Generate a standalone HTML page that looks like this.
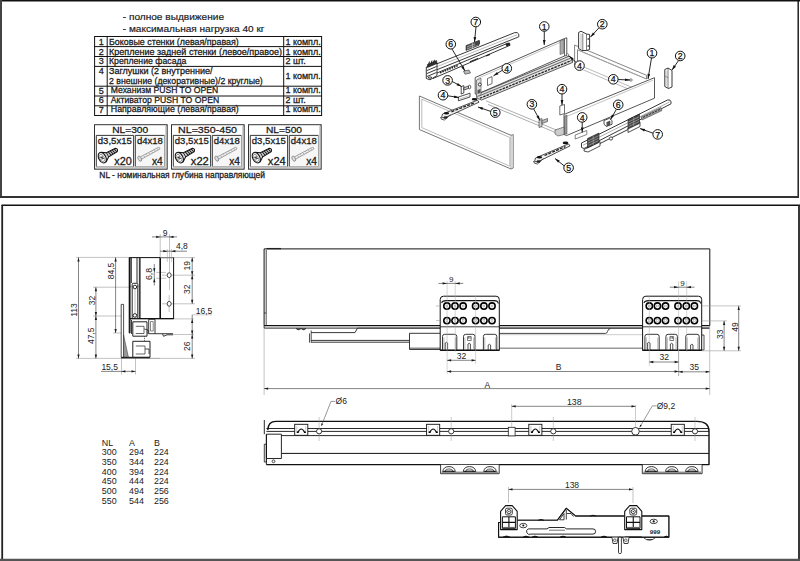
<!DOCTYPE html>
<html><head><meta charset="utf-8">
<style>
html,body{margin:0;padding:0;background:#fff;}
body{width:800px;height:561px;overflow:hidden;}
svg{display:block;font-family:"Liberation Sans",sans-serif;}
.t{font-size:9px;fill:#1a1a1a;stroke:#1a1a1a;stroke-width:0.28px;}
#bottom text{stroke:none;}
.ln{stroke:#111;stroke-width:1;fill:none;}
</style></head><body>
<svg width="800" height="561" viewBox="0 0 800 561">
<!-- frames -->
<g id="frames" fill="none">
<line x1="0" y1="0.75" x2="800" y2="0.75" stroke="#111" stroke-width="1.5"/>
<line x1="1" y1="0" x2="1" y2="198" stroke="#444" stroke-width="2"/>
<line x1="798.2" y1="0" x2="798.2" y2="198" stroke="#111" stroke-width="1.4"/>
<line x1="0" y1="197" x2="799" y2="197" stroke="#333" stroke-width="1.8"/>
<line x1="1.5" y1="205.3" x2="800" y2="205.3" stroke="#111" stroke-width="1.5"/>
<line x1="2.2" y1="205" x2="2.2" y2="561" stroke="#222" stroke-width="1.8"/>
<line x1="799" y1="205" x2="799" y2="561" stroke="#222" stroke-width="1.8"/>
<line x1="0" y1="560" x2="800" y2="560" stroke="#555" stroke-width="2.4"/>
</g>
<!-- header text -->
<g id="hdr" class="t" style="font-size:9.5px;stroke-width:0.18px">
<text x="122.75" y="20" textLength="101.25" lengthAdjust="spacingAndGlyphs">- полное выдвижение</text>
<text x="122.75" y="32" textLength="141.75" lengthAdjust="spacingAndGlyphs">- максимальная нагрузка 40 кг</text>
</g>
<!-- table -->
<g id="tbl">
<g stroke="#111" stroke-width="1" fill="none">
<rect x="94.6" y="36.5" width="227" height="79"/>
<line x1="107.2" y1="36.5" x2="107.2" y2="115.5"/>
<line x1="283.7" y1="36.5" x2="283.7" y2="115.5"/>
<line x1="94.6" y1="46.6" x2="321.6" y2="46.6"/>
<line x1="94.6" y1="56.5" x2="321.6" y2="56.5"/>
<line x1="94.6" y1="66.4" x2="321.6" y2="66.4"/>
<line x1="94.6" y1="86.2" x2="321.6" y2="86.2"/>
<line x1="94.6" y1="96" x2="321.6" y2="96"/>
<line x1="94.6" y1="105.8" x2="321.6" y2="105.8"/>
</g>
<g class="t" style="font-size:9px">
<text x="98.8" y="44.7">1</text>
<text x="98.8" y="54.5">2</text>
<text x="98.8" y="64.4">3</text>
<text x="98.8" y="74.2">4</text>
<text x="98.8" y="93.6">5</text>
<text x="98.8" y="103.3">6</text>
<text x="98.8" y="113">7</text>
<text x="109" y="44.6" textLength="129.8" lengthAdjust="spacingAndGlyphs">Боковые стенки (левая/правая)</text>
<text x="109" y="54.5" textLength="173" lengthAdjust="spacingAndGlyphs">Крепление задней стенки (левое/правое)</text>
<text x="109" y="64.2" textLength="77.4" lengthAdjust="spacingAndGlyphs">Крепление фасада</text>
<text x="109" y="74.2" textLength="103.5" lengthAdjust="spacingAndGlyphs">Заглушки (2 внутренние/</text>
<text x="109" y="83.6" textLength="153.7" lengthAdjust="spacingAndGlyphs">2 внешние (декоративные)/2 круглые)</text>
<text x="110.8" y="93.4" textLength="107.4" lengthAdjust="spacingAndGlyphs">Механизм PUSH TO OPEN</text>
<text x="110.8" y="103.1" textLength="108.4" lengthAdjust="spacingAndGlyphs">Активатор PUSH TO OPEN</text>
<text x="110.8" y="112.4" textLength="128" lengthAdjust="spacingAndGlyphs">Направляющие (левая/правая)</text>
<text x="285.4" y="44.6" textLength="35.3" lengthAdjust="spacingAndGlyphs">1 компл.</text>
<text x="285.4" y="54.5" textLength="35.3" lengthAdjust="spacingAndGlyphs">1 компл.</text>
<text x="285.4" y="64.3">2 шт.</text>
<text x="285.4" y="78.7" textLength="35.3" lengthAdjust="spacingAndGlyphs">1 компл.</text>
<text x="285.4" y="93.4" textLength="35.3" lengthAdjust="spacingAndGlyphs">1 компл.</text>
<text x="285.4" y="103.1">2 шт.</text>
<text x="285.4" y="112.4" textLength="35.3" lengthAdjust="spacingAndGlyphs">1 компл.</text>
</g>
</g>

<!-- screw boxes -->
<defs>
<g id="scrA">
 <g transform="rotate(-29)">
 <path d="M1.8,-5.2 L6,-2.4 L16,-2 Q18.4,0 16,2 L6,2.4 L1.8,5.2 Z" fill="#d4d4d4" stroke="#111" stroke-width="1"/>
 <path d="M6,-2.4 V2.4" stroke="#111" stroke-width="0.8"/>
 <path d="M8,-2.3 L9,2.3 M10.2,-2.2 L11.2,2.2 M12.4,-2.1 L13.4,2.1 M14.6,-2 L15.5,1.9" stroke="#222" stroke-width="1.05"/>
 <ellipse cx="0" cy="0" rx="3.5" ry="5.6" fill="#fff" stroke="#111" stroke-width="1.1"/>
 <ellipse cx="-0.4" cy="0" rx="2.2" ry="4" fill="none" stroke="#666" stroke-width="0.6"/>
 <path d="M-1.6,-1.6 L1,1.6 M-1.2,1.6 L0.8,-1.8" stroke="#222" stroke-width="0.8"/>
 </g>
</g>
<g id="scrB">
 <g transform="rotate(-28.3)">
 <path d="M1.5,-1.3 L22.5,-1.1 Q24,0 22.5,1.1 L1.5,1.3 Z" fill="#eee" stroke="#999" stroke-width="0.8"/>
 <path d="M5,-1.2 L6,1.2 M8,-1.2 L9,1.2 M11,-1.2 L12,1.2 M14,-1.1 L15,1.1 M17,-1.1 L18,1.1 M20,-1 L21,1" stroke="#aaa" stroke-width="0.7"/>
 <ellipse cx="0.5" cy="0" rx="1.6" ry="2.8" fill="#ddd" stroke="#888" stroke-width="0.8"/>
 </g>
</g>
<g id="sbox">
 <rect x="0.5" y="0.5" width="72.6" height="44.4" fill="#fff" stroke="#333" stroke-width="1"/>
 <path d="M73.1,0.5 V44.9 H0.5" fill="none" stroke="#666" stroke-width="1"/>
 <path d="M71.8,1.8 V43.5 H1.8" fill="none" stroke="#ccc" stroke-width="1.4"/>
 <rect x="2.3" y="11.2" width="37.3" height="31.3" fill="#fff" stroke="none"/>
 <rect x="41.3" y="11.2" width="29.2" height="31.3" fill="#f6f6f6" stroke="none"/>
 <path d="M2.3,42.5 V11.2 H39.6 V42.5" fill="none" stroke="#222" stroke-width="0.9"/>
 <path d="M2.3,42.5 H39.6" fill="none" stroke="#999" stroke-width="0.9"/>
 <path d="M41.3,42.5 V11.2 H70.5" fill="none" stroke="#222" stroke-width="0.9"/>
 <path d="M70.5,11.2 V42.5 H41.3" fill="none" stroke="#999" stroke-width="0.9"/>
 <use href="#scrA" x="8.3" y="33.5"/>
 <use href="#scrB" x="45.3" y="34.7"/>
</g>
</defs>
<g class="t" style="font-size:9.5px">
<use href="#sbox" x="94" y="124.2"/>
<use href="#sbox" x="171" y="124.2"/>
<use href="#sbox" x="248" y="124.2"/>
<text x="112.2" y="133.2" textLength="36" lengthAdjust="spacingAndGlyphs" style="font-size:9.7px">NL=300</text>
<text x="178" y="133.2" textLength="59" lengthAdjust="spacingAndGlyphs" style="font-size:9.7px">NL=350-450</text>
<text x="266" y="133.2" textLength="36" lengthAdjust="spacingAndGlyphs" style="font-size:9.7px">NL=500</text>
<text x="97.8" y="143.6" textLength="34" lengthAdjust="spacingAndGlyphs" style="font-size:9.6px">d3,5x15</text>
<text x="174.8" y="143.6" textLength="34" lengthAdjust="spacingAndGlyphs" style="font-size:9.6px">d3,5x15</text>
<text x="251.8" y="143.6" textLength="34" lengthAdjust="spacingAndGlyphs" style="font-size:9.6px">d3,5x15</text>
<text x="136.9" y="143.6" textLength="26" lengthAdjust="spacingAndGlyphs" style="font-size:9.6px">d4x18</text>
<text x="213.8" y="143.6" textLength="26" lengthAdjust="spacingAndGlyphs" style="font-size:9.6px">d4x18</text>
<text x="290.8" y="143.6" textLength="26" lengthAdjust="spacingAndGlyphs" style="font-size:9.6px">d4x18</text>
<g style="font-size:10.5px">
<text x="114.3" y="164.8" textLength="17.5" lengthAdjust="spacingAndGlyphs">x20</text>
<text x="190.8" y="164.8" textLength="18" lengthAdjust="spacingAndGlyphs">x22</text>
<text x="267.8" y="164.8" textLength="18" lengthAdjust="spacingAndGlyphs">x24</text>
<text x="152" y="164.8" textLength="10.8" lengthAdjust="spacingAndGlyphs">x4</text>
<text x="229.2" y="164.8" textLength="10.8" lengthAdjust="spacingAndGlyphs">x4</text>
<text x="306.2" y="164.8" textLength="10.8" lengthAdjust="spacingAndGlyphs">x4</text>
</g>
<text x="99.3" y="178" style="font-size:8.5px" textLength="165.7" lengthAdjust="spacingAndGlyphs">NL - номинальная глубина направляющей</text>
</g>
<!--ISO-->
<g id="iso" stroke-linejoin="round">
<path d="M419.4,96 L511,135.3 L513.2,134.6 L513.2,168 L511,169 L419.4,129.5 Z" fill="#fff" stroke="#666" stroke-width="0.9"/>
<path d="M421.8,99.2 L509.8,137.5 L509.8,166.2 L421.8,127.6 Z" fill="none" stroke="#aaa" stroke-width="0.8"/>
<path d="M511,135.3 V169" stroke="#888" stroke-width="0.7"/>
<path d="M486,100.8 L561,132 M488,104.4 L558,133.6" stroke="#999" stroke-width="0.8" fill="none"/>
<path d="M575.5,63.5 L643,92 M575.5,66.5 L640,94" stroke="#aaa" stroke-width="0.8" fill="none"/>
<path d="M574.6,45 L646.5,75.3 L646.5,79 L577.5,49.8 L577.5,66 L574.6,65 Z" fill="#fff" stroke="#666" stroke-width="0.8"/>
<path d="M577.5,49.8 L640,76.3" stroke="#aaa" stroke-width="0.7"/>
<path d="M578.6,32.5 L581,31.2 L586.5,34 L589.6,34.5 L589.6,49.5 L586.5,50.5 L582,50.5 L578.6,48.5 Z" fill="#fff" stroke="#222" stroke-width="0.9"/>
<path d="M586.5,34 V50.5 M582.8,33.5 V50" stroke="#444" stroke-width="0.7"/>
<path d="M581,33.5 V49" stroke="#bbb" stroke-width="1"/>
<circle cx="588.2" cy="39" r="0.8" fill="#111"/><circle cx="588.2" cy="46" r="0.8" fill="#111"/>
<path d="M664.8,69.5 L668,68 L672,70.5 L672,87 L668.5,88.5 L664.8,86.5 Z" fill="#fff" stroke="#222" stroke-width="0.9"/>
<path d="M668,68 V88.3 M664.8,76 L668,77.5" stroke="#444" stroke-width="0.7"/>
<path d="M666,71 V86" stroke="#bbb" stroke-width="1"/>
<path d="M475.2,77.5 L564.5,38.5 L566.8,37.8 L566.8,55.5 L564.5,56 L476.5,94.5 L475.2,94 Z" fill="#fff" stroke="#444" stroke-width="0.9"/>
<path d="M477.5,78.5 L564.5,40.5" stroke="#aaa" stroke-width="0.7"/>
<path d="M564.5,38.5 V56" stroke="#444" stroke-width="0.8"/>
<path d="M476.8,94.5 L569.5,56 L572.5,59.5 L572.5,62.5 L481.5,100 L476.8,98 Z" fill="#e2e2e2" stroke="#333" stroke-width="0.8"/>
<path d="M478.5,96.2 L570.5,58.2" stroke="#333" stroke-width="0.7"/>
<path d="M480,98.2 L571.5,60.5" stroke="#222" stroke-width="1.3" stroke-dasharray="2.5 1"/>
<rect x="487.5" y="78.5" width="4.5" height="7" transform="skewY(-23.5) translate(0,212)" fill="#fff" stroke="#444" stroke-width="0.7"/>
<path d="M476.5,80 L481,78.3 L481,95 L476.5,96.5 Z" fill="#ddd" stroke="#444" stroke-width="0.6"/>
<circle cx="479.8" cy="84.5" r="1.5" fill="#fff" stroke="#111" stroke-width="0.8"/>
<path d="M477.5,90 L480.5,89 L480.5,93 L477.5,94 Z" fill="#555"/>
<path d="M560,41 L564,39.4 L564,53 L560,54.6 Z" fill="#aaa" stroke="#444" stroke-width="0.5"/>
<path d="M564,114.4 L654.5,77.7 L654.5,98.2 L566.7,135.5 L564,134.5 Z" fill="#fff" stroke="#444" stroke-width="0.9"/>
<path d="M566.5,116.5 L653,80.2" stroke="#aaa" stroke-width="0.7"/>
<path d="M564.5,116 L567,115 L567,134 L564.5,134 Z" fill="#999" stroke="#444" stroke-width="0.5"/>
<path d="M555,130 L564,127 L564,134.5 L558,136 L555,134 Z" fill="#ccc" stroke="#444" stroke-width="0.6"/>
<path d="M427,67.8 L514.8,32.6 Q517.5,31.8 518.8,34.2 L518.8,36.8 L430,72.5 Z" fill="#fff" stroke="#222" stroke-width="0.9"/>
<path d="M428.5,70 L517,34.8" stroke="#aaa" stroke-width="0.8"/>
<path d="M431,75.5 L507.5,43.3 Q510.5,42.6 510,45.3 L433,78.5 Z" fill="#fff" stroke="#222" stroke-width="0.9"/>
<path d="M505.5,43.8 L509.5,42.5 L510,45.3 L506.5,46.6 Z" fill="#222"/>
<path d="M440,72.8 L458,65.5" stroke="#222" stroke-width="1.6" stroke-dasharray="1.6 0.9"/>
<path d="M470,61.8 L478,58.5 M486,56 L490,54.4" stroke="#222" stroke-width="1.2"/>
<path d="M426.3,67 L437,62.8 L437,75.5 L430,79.8 L426.3,78.5 Z" fill="#fff" stroke="#222" stroke-width="0.9"/>
<path d="M427.5,64.5 L436.5,60.5 L437,63.5 L427.5,67.5 Z" fill="#333" stroke="#111" stroke-width="0.6"/>
<path d="M428.5,64.6 L429.5,61.5 M431,63.6 L432,60.6 M433.5,62.6 L434.5,59.8" stroke="#111" stroke-width="0.9"/>
<path d="M427,70.5 L436.5,66.5 M427,73.5 L436.5,69.5 M427,76.5 L436.5,72.5" stroke="#222" stroke-width="0.9"/>
<path d="M428,77.5 Q430,76 432,77.5 Q430,79.5 428,77.5 Z" fill="#fff" stroke="#111" stroke-width="0.7"/>
<path d="M466,45.6 L479,40.4 L479,45.2 L466,50.4 Z" fill="#555" stroke="#222" stroke-width="0.6"/>
<path d="M467,47 L478,42.6 M467,49 L478,44.6 M472.5,43 V48.5" stroke="#ccc" stroke-width="0.6"/>
<path d="M463.5,71.2 L469,70 L470.5,73 L465,74.2 Z" fill="#bbb" stroke="#333" stroke-width="0.6"/>
<path d="M581.5,143 L667.5,100 Q670.5,99.2 671,101.8 L671,103.8 L584,148.5 L581.5,147.5 Z" fill="#fff" stroke="#222" stroke-width="0.9"/>
<path d="M583,145.2 L669.5,102" stroke="#999" stroke-width="0.8"/>
<path d="M584,149.5 L600,141.5 L600,146 L588,152 L584,151 Z M628,128 L640,122 L640,126.5 L628,132.5 Z" fill="#fff" stroke="#222" stroke-width="0.8"/>
<path d="M600,143.5 L628,129.5" stroke="#222" stroke-width="0.9"/>
<circle cx="611" cy="138.5" r="1.6" fill="#fff" stroke="#222" stroke-width="0.8"/>
<path d="M587.5,138.5 L599.0,132.98 L599.0,142.48 L587.5,148.0 Z" fill="#444" stroke="#222" stroke-width="0.6"/>
<path d="M588.0,140.875 L598.5,135.835" stroke="#bbb" stroke-width="0.6"/>
<path d="M588.0,143.25 L598.5,138.21" stroke="#bbb" stroke-width="0.6"/>
<path d="M588.0,145.625 L598.5,140.585" stroke="#bbb" stroke-width="0.6"/>
<path d="M593.25,135.74 V145.24" stroke="#bbb" stroke-width="0.5"/>
<path d="M628,119.5 L639.5,113.98 L639.5,123.48 L628,129.0 Z" fill="#444" stroke="#222" stroke-width="0.6"/>
<path d="M628.5,121.875 L639.0,116.835" stroke="#bbb" stroke-width="0.6"/>
<path d="M628.5,124.25 L639.0,119.21" stroke="#bbb" stroke-width="0.6"/>
<path d="M628.5,126.625 L639.0,121.585" stroke="#bbb" stroke-width="0.6"/>
<path d="M633.75,116.74 V126.24" stroke="#bbb" stroke-width="0.5"/>
<path d="M641,117 L661,107.5 L662,110.5 L642,120 Z" fill="#999" stroke="#444" stroke-width="0.6"/>
<path d="M643,117.5 L645,116.5 M646,116 L648,115 M649,114.6 L651,113.6 M652,113.2 L654,112.2 M655,111.8 L657,110.8 M658,110.4 L660,109.4" stroke="#222" stroke-width="0.8"/>
<path d="M604,120.5 L609.5,118.3 L612,120.5 L612,124.3 L606.5,126.5 L604,124.3 Z" fill="#fff" stroke="#222" stroke-width="0.8"/>
<path d="M606.5,122.5 L610,121 L610,124.5 L606.5,126" fill="#555" stroke="#222" stroke-width="0.5"/>
<path d="M442.5,114.0 L477.5,100.18 L479.0,102.18 L444.5,118.0 L441.5,117.5 Z" fill="#f0f0f0" stroke="#222" stroke-width="0.8"/>
<path d="M451.5,111.8 L474.5,102.79" stroke="#222" stroke-width="1.3" stroke-dasharray="3 1.2"/>
<path d="M440.5,117.0 Q440.5,120.0 444.5,120.0 L450.5,114.67" fill="none" stroke="#333" stroke-width="0.8"/>
<ellipse cx="446.5" cy="113.3" rx="2.6" ry="1.3" fill="#111"/>
<ellipse cx="445.5" cy="117.5" rx="2" ry="1.2" fill="#222"/>
<ellipse cx="474.5" cy="99.18" rx="2.8" ry="1.3" fill="#111"/>

<path d="M535.5,158.0 L568.5,143.9 L570.0,145.9 L537.5,162.0 L534.5,161.5 Z" fill="#f0f0f0" stroke="#222" stroke-width="0.8"/>
<path d="M544.5,155.5 L565.5,146.6" stroke="#222" stroke-width="1.3" stroke-dasharray="3 1.2"/>
<path d="M533.5,161.0 Q533.5,164.0 537.5,164.0 L543.5,158.4" fill="none" stroke="#333" stroke-width="0.8"/>
<ellipse cx="539.5" cy="157.3" rx="2.6" ry="1.3" fill="#111"/>
<ellipse cx="538.5" cy="161.5" rx="2" ry="1.2" fill="#222"/>
<ellipse cx="565.5" cy="142.9" rx="2.8" ry="1.3" fill="#111"/>

<path d="M461.2,86.5 L463.8,85.6 L463.8,93 L461.2,94 Z" fill="#fff" stroke="#222" stroke-width="0.8"/>
<path d="M463.8,87.6 L468.8,86 L468.8,88.4 L463.8,90 Z" fill="#ccc" stroke="#222" stroke-width="0.7"/>
<ellipse cx="469.6" cy="87" rx="1.2" ry="1.8" fill="#fff" stroke="#222" stroke-width="0.7"/>
<path d="M458.4,97 L470,93.2 L470,97 L458.4,100.8 Z" fill="#fff" stroke="#222" stroke-width="0.8"/>
<path d="M459.5,99 L469,95.8" stroke="#999" stroke-width="0.6"/>
<path d="M539,119.5 L542,118.5 L542,126.5 L539,127.5 Z" fill="#ccc" stroke="#333" stroke-width="0.6"/>
<path d="M542,120.5 L547.5,118.5 L547.5,121.5 L542,123.5 Z" fill="#bbb" stroke="#333" stroke-width="0.6"/>
<path d="M559.8,106 L564.5,104.5 L564.5,113.5 L559.8,115 Z" fill="#fff" stroke="#333" stroke-width="0.7"/>
<path d="M575.2,135 L586.8,130.5 L586.8,134.5 L575.2,139 Z" fill="#fff" stroke="#333" stroke-width="0.6"/>
<circle cx="631" cy="80" r="1.2" fill="#fff" stroke="#333" stroke-width="0.6"/>
<circle cx="567.5" cy="55" r="1.2" fill="#fff" stroke="#333" stroke-width="0.6"/>
<path d="M475,42 L480,40.2 L480,44 L475,45.8 Z" fill="#444"/>

<line x1="476" y1="26.8" x2="474.5" y2="42" stroke="#111" stroke-width="0.9"/>
<path d="M474.5,42.0 L473.6,36.9 L476.3,37.2 Z" fill="#111"/>
<circle cx="475.8" cy="22.0" r="4.8" fill="#fff" stroke="#111" stroke-width="1"/>
<text x="475.8" y="25.15" text-anchor="middle" style="font-size:8.8px;fill:#111;stroke:#111;stroke-width:0.25px">7</text>
<line x1="544.3" y1="31.3" x2="544.2" y2="45" stroke="#111" stroke-width="0.9"/>
<path d="M544.2,45.0 L542.9,40.0 L545.6,40.0 Z" fill="#111"/>
<circle cx="544.3" cy="26.5" r="4.8" fill="#fff" stroke="#111" stroke-width="1"/>
<text x="544.3" y="29.65" text-anchor="middle" style="font-size:8.8px;fill:#111;stroke:#111;stroke-width:0.25px">1</text>
<line x1="599" y1="27.8" x2="590.5" y2="37" stroke="#111" stroke-width="0.9"/>
<path d="M590.5,37.0 L592.9,32.4 L594.9,34.2 Z" fill="#111"/>
<circle cx="602.3" cy="24.2" r="4.8" fill="#fff" stroke="#111" stroke-width="1"/>
<text x="602.3" y="27.35" text-anchor="middle" style="font-size:8.8px;fill:#111;stroke:#111;stroke-width:0.25px">2</text>
<line x1="452" y1="49" x2="465" y2="71" stroke="#111" stroke-width="0.9"/>
<path d="M465.0,71.0 L461.3,67.4 L463.6,66.0 Z" fill="#111"/>
<circle cx="450.8" cy="44.2" r="4.8" fill="#fff" stroke="#111" stroke-width="1"/>
<text x="450.8" y="47.35" text-anchor="middle" style="font-size:8.8px;fill:#111;stroke:#111;stroke-width:0.25px">6</text>
<line x1="651.5" y1="58" x2="648" y2="79" stroke="#111" stroke-width="0.9"/>
<path d="M648.0,79.0 L647.5,73.8 L650.2,74.3 Z" fill="#111"/>
<circle cx="652.0" cy="53.2" r="4.8" fill="#fff" stroke="#111" stroke-width="1"/>
<text x="652.0" y="56.35" text-anchor="middle" style="font-size:8.8px;fill:#111;stroke:#111;stroke-width:0.25px">1</text>
<line x1="678.5" y1="60.6" x2="672" y2="70" stroke="#111" stroke-width="0.9"/>
<path d="M672.0,70.0 L673.7,65.1 L676.0,66.7 Z" fill="#111"/>
<circle cx="680.2" cy="56.0" r="4.8" fill="#fff" stroke="#111" stroke-width="1"/>
<text x="680.2" y="59.15" text-anchor="middle" style="font-size:8.8px;fill:#111;stroke:#111;stroke-width:0.25px">2</text>
<line x1="502.4" y1="70.2" x2="493.5" y2="75.8" stroke="#111" stroke-width="0.9"/>
<path d="M493.5,75.8 L497.0,72.0 L498.5,74.3 Z" fill="#111"/>
<circle cx="506.8" cy="68.4" r="4.8" fill="#fff" stroke="#111" stroke-width="1"/>
<text x="506.8" y="71.55" text-anchor="middle" style="font-size:8.8px;fill:#111;stroke:#111;stroke-width:0.25px">4</text>
<line x1="576" y1="62.3" x2="569" y2="56" stroke="#111" stroke-width="0.9"/>
<path d="M569.0,56.0 L573.6,58.3 L571.8,60.3 Z" fill="#111"/>
<circle cx="579.5" cy="65.6" r="4.8" fill="#fff" stroke="#111" stroke-width="1"/>
<text x="579.5" y="68.75" text-anchor="middle" style="font-size:8.8px;fill:#111;stroke:#111;stroke-width:0.25px">4</text>
<line x1="452.3" y1="81.5" x2="461.5" y2="86.5" stroke="#111" stroke-width="0.9"/>
<path d="M461.5,86.5 L456.5,85.3 L457.8,82.9 Z" fill="#111"/>
<circle cx="447.6" cy="80.4" r="4.8" fill="#fff" stroke="#111" stroke-width="1"/>
<text x="447.6" y="83.55" text-anchor="middle" style="font-size:8.8px;fill:#111;stroke:#111;stroke-width:0.25px">3</text>
<line x1="618.1" y1="79.5" x2="630" y2="80" stroke="#111" stroke-width="0.9"/>
<path d="M630.0,80.0 L624.9,81.1 L625.1,78.4 Z" fill="#111"/>
<circle cx="613.3" cy="79.3" r="4.8" fill="#fff" stroke="#111" stroke-width="1"/>
<text x="613.3" y="82.45" text-anchor="middle" style="font-size:8.8px;fill:#111;stroke:#111;stroke-width:0.25px">4</text>
<line x1="447.8" y1="95.8" x2="459" y2="97.5" stroke="#111" stroke-width="0.9"/>
<path d="M459.0,97.5 L453.9,98.1 L454.3,95.4 Z" fill="#111"/>
<circle cx="443.0" cy="95.2" r="4.8" fill="#fff" stroke="#111" stroke-width="1"/>
<text x="443.0" y="98.35" text-anchor="middle" style="font-size:8.8px;fill:#111;stroke:#111;stroke-width:0.25px">4</text>
<line x1="562" y1="94" x2="562" y2="105" stroke="#111" stroke-width="0.9"/>
<path d="M562.0,105.0 L560.6,100.0 L563.4,100.0 Z" fill="#111"/>
<circle cx="562.0" cy="89.2" r="4.8" fill="#fff" stroke="#111" stroke-width="1"/>
<text x="562.0" y="92.35" text-anchor="middle" style="font-size:8.8px;fill:#111;stroke:#111;stroke-width:0.25px">4</text>
<line x1="490.6" y1="111.4" x2="478" y2="107" stroke="#111" stroke-width="0.9"/>
<path d="M478.0,107.0 L483.2,107.4 L482.3,109.9 Z" fill="#111"/>
<circle cx="495.3" cy="112.6" r="4.8" fill="#fff" stroke="#111" stroke-width="1"/>
<text x="495.3" y="115.75" text-anchor="middle" style="font-size:8.8px;fill:#111;stroke:#111;stroke-width:0.25px">5</text>
<line x1="533.6" y1="108.8" x2="540" y2="120.5" stroke="#111" stroke-width="0.9"/>
<path d="M540.0,120.5 L536.4,116.8 L538.8,115.5 Z" fill="#111"/>
<circle cx="531.9" cy="104.3" r="4.8" fill="#fff" stroke="#111" stroke-width="1"/>
<text x="531.9" y="107.45" text-anchor="middle" style="font-size:8.8px;fill:#111;stroke:#111;stroke-width:0.25px">3</text>
<line x1="616.4" y1="109.3" x2="610.5" y2="119.5" stroke="#111" stroke-width="0.9"/>
<path d="M610.5,119.5 L611.8,114.5 L614.2,115.8 Z" fill="#111"/>
<circle cx="618.2" cy="104.8" r="4.8" fill="#fff" stroke="#111" stroke-width="1"/>
<text x="618.2" y="107.95" text-anchor="middle" style="font-size:8.8px;fill:#111;stroke:#111;stroke-width:0.25px">6</text>
<line x1="582.2" y1="122.2" x2="582.2" y2="132.5" stroke="#111" stroke-width="0.9"/>
<path d="M582.2,132.5 L580.9,127.5 L583.6,127.5 Z" fill="#111"/>
<circle cx="582.2" cy="117.4" r="4.8" fill="#fff" stroke="#111" stroke-width="1"/>
<text x="582.2" y="120.55" text-anchor="middle" style="font-size:8.8px;fill:#111;stroke:#111;stroke-width:0.25px">4</text>
<line x1="653" y1="133.2" x2="640" y2="128.5" stroke="#111" stroke-width="0.9"/>
<path d="M640.0,128.5 L645.2,128.9 L644.2,131.5 Z" fill="#111"/>
<circle cx="657.7" cy="134.4" r="4.8" fill="#fff" stroke="#111" stroke-width="1"/>
<text x="657.7" y="137.55" text-anchor="middle" style="font-size:8.8px;fill:#111;stroke:#111;stroke-width:0.25px">7</text>
<line x1="564.1" y1="165.8" x2="555" y2="158.5" stroke="#111" stroke-width="0.9"/>
<path d="M555.0,158.5 L559.7,160.6 L558.1,162.7 Z" fill="#111"/>
<circle cx="568.6" cy="167.8" r="4.8" fill="#fff" stroke="#111" stroke-width="1"/>
<text x="568.6" y="170.95" text-anchor="middle" style="font-size:8.8px;fill:#111;stroke:#111;stroke-width:0.25px">5</text>
</g>
<!--BOTTOM-->
<g id="bottom">
<line x1="76" y1="257.4" x2="129" y2="257.4" stroke="#9a9a9a" stroke-width="0.6" />
<line x1="93" y1="287.2" x2="131" y2="287.2" stroke="#9a9a9a" stroke-width="0.6" />
<line x1="93" y1="316" x2="122" y2="316" stroke="#9a9a9a" stroke-width="0.6" />
<line x1="113" y1="333" x2="122" y2="333" stroke="#9a9a9a" stroke-width="0.6" />
<line x1="76" y1="358.4" x2="160" y2="358.4" stroke="#9a9a9a" stroke-width="0.6" />
<line x1="173.6" y1="257.6" x2="195" y2="257.6" stroke="#9a9a9a" stroke-width="0.6" />
<line x1="162" y1="275.2" x2="195" y2="275.2" stroke="#9a9a9a" stroke-width="0.6" />
<line x1="162" y1="303.8" x2="195" y2="303.8" stroke="#9a9a9a" stroke-width="0.6" />
<line x1="174" y1="318.9" x2="194" y2="318.9" stroke="#9a9a9a" stroke-width="0.6" />
<line x1="173" y1="334.5" x2="194" y2="334.5" stroke="#9a9a9a" stroke-width="0.6" />
<line x1="150" y1="358.4" x2="195" y2="358.4" stroke="#9a9a9a" stroke-width="0.6" />
<line x1="160.2" y1="234" x2="160.2" y2="258" stroke="#9a9a9a" stroke-width="0.6" />
<line x1="169.5" y1="234" x2="169.5" y2="290" stroke="#9a9a9a" stroke-width="0.6" />
<line x1="169.2" y1="295" x2="169.2" y2="312" stroke="#9a9a9a" stroke-width="0.6" />
<line x1="167.3" y1="249" x2="167.3" y2="262" stroke="#9a9a9a" stroke-width="0.5" />
<line x1="171.4" y1="249" x2="171.4" y2="262" stroke="#9a9a9a" stroke-width="0.5" />
<line x1="156" y1="272.4" x2="166" y2="272.4" stroke="#9a9a9a" stroke-width="0.6" />
<line x1="156" y1="278.3" x2="166" y2="278.3" stroke="#9a9a9a" stroke-width="0.6" />
<line x1="121.5" y1="358" x2="121.5" y2="374.5" stroke="#9a9a9a" stroke-width="0.6" />
<line x1="135.5" y1="358" x2="135.5" y2="374.5" stroke="#9a9a9a" stroke-width="0.6" />
<line x1="130" y1="286.3" x2="140" y2="286.3" stroke="#9a9a9a" stroke-width="0.6" />
<line x1="78.5" y1="257.4" x2="78.5" y2="358.4" stroke="#333" stroke-width="0.6" />
<path d="M78.50,257.40 L79.65,261.40 L77.35,261.40 Z" fill="#1a1a1a"/>
<path d="M78.50,358.40 L77.35,354.40 L79.65,354.40 Z" fill="#1a1a1a"/>
<line x1="115.6" y1="257.4" x2="115.6" y2="333" stroke="#333" stroke-width="0.6" />
<path d="M115.60,257.40 L116.75,261.40 L114.45,261.40 Z" fill="#1a1a1a"/>
<path d="M115.60,333.00 L114.45,329.00 L116.75,329.00 Z" fill="#1a1a1a"/>
<line x1="95.9" y1="287.2" x2="95.9" y2="316" stroke="#333" stroke-width="0.6" />
<path d="M95.90,287.20 L97.05,291.20 L94.75,291.20 Z" fill="#1a1a1a"/>
<path d="M95.90,316.00 L94.75,312.00 L97.05,312.00 Z" fill="#1a1a1a"/>
<line x1="95.9" y1="316" x2="95.9" y2="358.4" stroke="#333" stroke-width="0.6" />
<path d="M95.90,316.00 L97.05,320.00 L94.75,320.00 Z" fill="#1a1a1a"/>
<path d="M95.90,358.40 L94.75,354.40 L97.05,354.40 Z" fill="#1a1a1a"/>
<line x1="192.2" y1="257.6" x2="192.2" y2="275.2" stroke="#333" stroke-width="0.6" />
<path d="M192.20,257.60 L193.35,261.60 L191.05,261.60 Z" fill="#1a1a1a"/>
<path d="M192.20,275.20 L191.05,271.20 L193.35,271.20 Z" fill="#1a1a1a"/>
<line x1="192.2" y1="275.2" x2="192.2" y2="303.8" stroke="#333" stroke-width="0.6" />
<path d="M192.20,275.20 L193.35,279.20 L191.05,279.20 Z" fill="#1a1a1a"/>
<path d="M192.20,303.80 L191.05,299.80 L193.35,299.80 Z" fill="#1a1a1a"/>
<line x1="192.2" y1="318.9" x2="192.2" y2="334.5" stroke="#333" stroke-width="0.6" />
<path d="M192.20,318.90 L193.35,322.90 L191.05,322.90 Z" fill="#1a1a1a"/>
<path d="M192.20,334.50 L191.05,330.50 L193.35,330.50 Z" fill="#1a1a1a"/>
<line x1="192.2" y1="314.8" x2="192.2" y2="318.9" stroke="#333" stroke-width="0.6" />
<line x1="192.2" y1="334.5" x2="192.2" y2="358.4" stroke="#333" stroke-width="0.6" />
<path d="M192.20,334.50 L193.35,338.50 L191.05,338.50 Z" fill="#1a1a1a"/>
<path d="M192.20,358.40 L191.05,354.40 L193.35,354.40 Z" fill="#1a1a1a"/>
<line x1="154.3" y1="264" x2="154.3" y2="285.5" stroke="#333" stroke-width="0.6" />
<path d="M154.30,272.30 L153.20,268.30 L155.40,268.30 Z" fill="#1a1a1a"/>
<path d="M154.30,278.30 L155.40,282.30 L153.20,282.30 Z" fill="#1a1a1a"/>
<line x1="152" y1="236.9" x2="177" y2="236.9" stroke="#333" stroke-width="0.6" />
<path d="M160.20,236.90 L156.20,238.05 L156.20,235.75 Z" fill="#1a1a1a"/>
<path d="M169.50,236.90 L173.50,235.75 L173.50,238.05 Z" fill="#1a1a1a"/>
<line x1="160" y1="251.2" x2="187" y2="251.2" stroke="#333" stroke-width="0.6" />
<path d="M167.30,251.20 L163.30,252.35 L163.30,250.05 Z" fill="#1a1a1a"/>
<path d="M171.40,251.20 L175.40,250.05 L175.40,252.35 Z" fill="#1a1a1a"/>
<line x1="101" y1="371.4" x2="135.5" y2="371.4" stroke="#333" stroke-width="0.6" />
<path d="M121.40,371.40 L125.40,370.30 L125.40,372.50 Z" fill="#1a1a1a"/>
<path d="M135.50,371.40 L131.50,372.50 L131.50,370.30 Z" fill="#1a1a1a"/>
<line x1="192.2" y1="314.8" x2="212" y2="314.8" stroke="#999" stroke-width="0.5" />
<text x="165.1" y="235.6" text-anchor="middle" style="font-size:8.5px;fill:#222" >9</text>
<text x="176" y="249.1" text-anchor="start" style="font-size:8.5px;fill:#222" >4,8</text>
<text x="189.7" y="265.7" text-anchor="middle" style="font-size:8.5px;fill:#222" transform="rotate(-90 189.7 265.7)" >19</text>
<text x="189.7" y="289.3" text-anchor="middle" style="font-size:8.5px;fill:#222" transform="rotate(-90 189.7 289.3)" >32</text>
<text x="152.2" y="274" text-anchor="middle" style="font-size:8.8px;fill:#222" transform="rotate(-90 152.2 274)" >6,8</text>
<text x="195.7" y="313.6" text-anchor="start" style="font-size:8.5px;fill:#222" >16,5</text>
<text x="189.9" y="346.2" text-anchor="middle" style="font-size:8.5px;fill:#222" transform="rotate(-90 189.9 346.2)" >26</text>
<text x="76.5" y="310" text-anchor="middle" style="font-size:8.5px;fill:#222" transform="rotate(-90 76.5 310)" >113</text>
<text x="113.5" y="271" text-anchor="middle" style="font-size:8.5px;fill:#222" transform="rotate(-90 113.5 271)" >84,5</text>
<text x="94.5" y="300.5" text-anchor="middle" style="font-size:8.5px;fill:#222" transform="rotate(-90 94.5 300.5)" >32</text>
<text x="94.5" y="335.8" text-anchor="middle" style="font-size:8.5px;fill:#222" transform="rotate(-90 94.5 335.8)" >47,5</text>
<text x="101.4" y="369.7" text-anchor="start" style="font-size:8.5px;fill:#222" >15,5</text>
<g fill="none" stroke="#111">
<rect x="129.6" y="257.6" width="44" height="61" stroke-width="1"/>
<path d="M129.6,257.6 V333" stroke-width="1.8"/>
<path d="M160.2,257.6 V318.7" stroke-width="1.6"/>
<path d="M131.3,258 V283 M137,258 V283 M139.4,258 V318.5" stroke-width="0.9"/><path d="M140.4,258 V318.5" stroke-width="0.6"/>
<path d="M160.2,257.6 H173.6" stroke="#888" stroke-width="1"/>
<path d="M129.6,318.7 H173.6" stroke-width="1.3"/>
</g>
<rect x="132.2" y="283.3" width="5.6" height="35" rx="1" fill="#fff" stroke="#111" stroke-width="0.9"/>
<circle cx="134.9" cy="287" r="1.8" fill="#fff" stroke="#111" stroke-width="0.9"/><circle cx="134.9" cy="315.4" r="1.8" fill="#fff" stroke="#111" stroke-width="0.9"/>
<path d="M135,289 V313.5" stroke="#777" stroke-width="0.5"/>
<ellipse cx="169.2" cy="275.2" rx="2" ry="2.4" fill="#fff" stroke="#222" stroke-width="0.8"/>
<ellipse cx="169.2" cy="303.8" rx="2" ry="2.4" fill="#fff" stroke="#222" stroke-width="0.8"/>
<path d="M121.2,304.4 H123.6 V357.5 H121.2 Z" fill="#fff" stroke="#222" stroke-width="0.8"/>
<path d="M123.6,335 L128.5,357.5 H123.6 Z" fill="#999" stroke="#333" stroke-width="0.5"/>
<g fill="none" stroke="#222" stroke-width="0.9">
<path d="M129.6,318.7 V333.5 M131.5,320 V334"/>
<path d="M132.8,321.8 H147 V336.2 H132.8 Z" stroke-width="1"/>
<path d="M135.8,326.3 H144 V333.5 H135.8" stroke="#555"/>
<path d="M132.8,341.3 H150 V357.4 H132.8 Z" stroke-width="1"/>
<path d="M135.8,346 H145 V354 H135.8" stroke="#555"/>
<path d="M148.7,319.3 H155 V333.7 H148.7 Z"/>
<path d="M150.5,321.5 H153.2 V331 H150.5 Z" stroke="#555" stroke-width="0.7"/>
<path d="M155,333.7 H173 M162.5,333.7 L163.5,336.3 L167,334.8 L173,334.8"/>
<path d="M144.3,329 L148,330 L148,334 M145,349 L149,349 L149,354" stroke-width="0.8"/>
<path d="M121.2,357.6 H150" stroke-width="1.6"/>
<path d="M144.5,336.2 V341.3" stroke="#444" stroke-dasharray="1 1"/>
</g>
<g fill="none" stroke="#111">
<path d="M264.1,325.6 V248.9 H709.8 V325.6" stroke-width="1"/>
<path d="M266.2,250 V313" stroke-width="0.8"/>
<path d="M266.5,248.6 H281" stroke="#222" stroke-width="1.3"/>
<path d="M264.1,313 H266.2 V325.6" stroke-width="0.7"/>
<path d="M264.1,325.6 H709.8" stroke-width="1.1"/>
<path d="M264.1,328.1 H709.8" stroke-width="0.9"/>
<path d="M264.1,325.6 V328.1" stroke-width="0.8"/>
</g>
<path d="M296,328.5 q2.5,2.5 5,0 q2.5,2.5 5,0" fill="#222" stroke="#222" stroke-width="0.8"/>
<g fill="none" stroke="#222" stroke-width="0.9">
<path d="M311.2,332.6 H355 L357.5,328.1"/>
<path d="M311.2,340.4 H409.5 M311.2,342.2 H409.5" />
<path d="M311.2,330.5 V342.6 M309.5,333.5 V342.6" stroke-width="0.8"/>
<path d="M409.5,333.3 H440.2 M409.5,333.3 V349.5 H440.2" />
<path d="M410,348.3 H440" stroke="#888" stroke-width="1.6"/>
<path d="M357.5,328.1 H709" stroke-width="0.7"/>
<path d="M499.3,333.4 H605.5 Q607,333.4 607.5,331.5 Q608.2,328.6 610.5,328.6" stroke="#333" stroke-width="0.9"/>
<path d="M499.3,334.7 H642.4" stroke="#ccc" stroke-width="1"/>
<path d="M499.3,348.2 H642.4" stroke="#999" stroke-width="1.6"/>
<path d="M701.7,335 H704 V350 H701.7" stroke-width="0.8"/>
</g>
<path d="M440.2,350.4 V299.5 Q440.2,296.2 443.5,296.2 H496.0 Q499.3,296.2 499.3,299.5 V350.4 Z" fill="#fff" stroke="#111" stroke-width="1"/>
<path d="M441.7,303 Q442.2,300.6 446.2,300.6 H494.3 Q497.8,300.6 498.3,303.5" fill="none" stroke="#111" stroke-width="1.1"/>
<path d="M440.2,326.8 H499.3" stroke="#111" stroke-width="0.8"/>
<path d="M440.2,350.2 H499.3" stroke="#111" stroke-width="1.4"/>
<circle cx="446.9" cy="306" r="3.15" fill="#fff" stroke="#000" stroke-width="1.55"/>
<rect x="446.0" y="305.1" width="1.8" height="1.8" fill="none" stroke="#999" stroke-width="0.5"/>
<circle cx="446.9" cy="320.6" r="3.15" fill="#fff" stroke="#000" stroke-width="1.55"/>
<rect x="446.0" y="319.70000000000005" width="1.8" height="1.8" fill="none" stroke="#999" stroke-width="0.5"/>
<circle cx="455.0" cy="306" r="3.15" fill="#fff" stroke="#000" stroke-width="1.55"/>
<rect x="454.1" y="305.1" width="1.8" height="1.8" fill="none" stroke="#999" stroke-width="0.5"/>
<circle cx="455.0" cy="320.6" r="3.15" fill="#fff" stroke="#000" stroke-width="1.55"/>
<rect x="454.1" y="319.70000000000005" width="1.8" height="1.8" fill="none" stroke="#999" stroke-width="0.5"/>
<circle cx="463.09999999999997" cy="306" r="3.15" fill="#fff" stroke="#000" stroke-width="1.55"/>
<rect x="462.2" y="305.1" width="1.8" height="1.8" fill="none" stroke="#999" stroke-width="0.5"/>
<circle cx="463.09999999999997" cy="320.6" r="3.15" fill="#fff" stroke="#000" stroke-width="1.55"/>
<rect x="462.2" y="319.70000000000005" width="1.8" height="1.8" fill="none" stroke="#999" stroke-width="0.5"/>
<circle cx="475.59999999999997" cy="306" r="3.15" fill="#fff" stroke="#000" stroke-width="1.55"/>
<rect x="474.7" y="305.1" width="1.8" height="1.8" fill="none" stroke="#999" stroke-width="0.5"/>
<circle cx="475.59999999999997" cy="320.6" r="3.15" fill="#fff" stroke="#000" stroke-width="1.55"/>
<rect x="474.7" y="319.70000000000005" width="1.8" height="1.8" fill="none" stroke="#999" stroke-width="0.5"/>
<circle cx="483.9" cy="306" r="3.15" fill="#fff" stroke="#000" stroke-width="1.55"/>
<rect x="483.0" y="305.1" width="1.8" height="1.8" fill="none" stroke="#999" stroke-width="0.5"/>
<circle cx="483.9" cy="320.6" r="3.15" fill="#fff" stroke="#000" stroke-width="1.55"/>
<rect x="483.0" y="319.70000000000005" width="1.8" height="1.8" fill="none" stroke="#999" stroke-width="0.5"/>
<circle cx="492.0" cy="306" r="3.15" fill="#fff" stroke="#000" stroke-width="1.55"/>
<rect x="491.1" y="305.1" width="1.8" height="1.8" fill="none" stroke="#999" stroke-width="0.5"/>
<circle cx="492.0" cy="320.6" r="3.15" fill="#fff" stroke="#000" stroke-width="1.55"/>
<rect x="491.1" y="319.70000000000005" width="1.8" height="1.8" fill="none" stroke="#999" stroke-width="0.5"/>
<path d="M442.5,350 V336.5 Q442.5,334.3 444.7,334.3 H454.6 Q456.8,334.3 456.8,336.5 V350" fill="none" stroke="#222" stroke-width="0.9"/>
<path d="M443.9,350 V337.5 M455.40000000000003,350 V337.5" stroke="#888" stroke-width="0.6"/>
<path d="M463.5,350 V336.5 Q463.5,334.3 465.7,334.3 H472.8 Q475.0,334.3 475.0,336.5 V350" fill="none" stroke="#222" stroke-width="0.9"/>
<path d="M464.9,350 V337.5 M473.6,350 V337.5" stroke="#888" stroke-width="0.6"/>
<path d="M483.4,350 V336.5 Q483.4,334.3 485.59999999999997,334.3 H494.6 Q496.8,334.3 496.8,336.5 V350" fill="none" stroke="#222" stroke-width="0.9"/>
<path d="M484.79999999999995,350 V337.5 M495.40000000000003,350 V337.5" stroke="#888" stroke-width="0.6"/>
<path d="M445.2,350 V343 Q446.4,341.5 447.59999999999997,343 V350" fill="none" stroke="#222" stroke-width="0.8"/>
<path d="M468.0,350 V344 Q469.2,342.5 470.4,344 V350" fill="none" stroke="#222" stroke-width="0.8"/>
<path d="M488.2,350 V345 Q489.4,343.5 490.59999999999997,345 V350" fill="none" stroke="#222" stroke-width="0.8"/>
<path d="M467.5,336.6 H471.2 V340.5 H467.5 Z M468.59999999999997,336.6 V338.8 M470.09999999999997,336.6 V338.8" fill="none" stroke="#222" stroke-width="0.6"/>
<path d="M642.6,350.4 V299.5 Q642.6,296.2 645.9,296.2 H698.4000000000001 Q701.7,296.2 701.7,299.5 V350.4 Z" fill="#fff" stroke="#111" stroke-width="1"/>
<path d="M644.1,303 Q644.6,300.6 648.6,300.6 H696.7 Q700.2,300.6 700.7,303.5" fill="none" stroke="#111" stroke-width="1.1"/>
<path d="M642.6,326.8 H701.7" stroke="#111" stroke-width="0.8"/>
<path d="M642.6,350.2 H701.7" stroke="#111" stroke-width="1.4"/>
<circle cx="649.3000000000001" cy="306" r="3.15" fill="#fff" stroke="#000" stroke-width="1.55"/>
<rect x="648.4000000000001" y="305.1" width="1.8" height="1.8" fill="none" stroke="#999" stroke-width="0.5"/>
<circle cx="649.3000000000001" cy="320.6" r="3.15" fill="#fff" stroke="#000" stroke-width="1.55"/>
<rect x="648.4000000000001" y="319.70000000000005" width="1.8" height="1.8" fill="none" stroke="#999" stroke-width="0.5"/>
<circle cx="657.4" cy="306" r="3.15" fill="#fff" stroke="#000" stroke-width="1.55"/>
<rect x="656.5" y="305.1" width="1.8" height="1.8" fill="none" stroke="#999" stroke-width="0.5"/>
<circle cx="657.4" cy="320.6" r="3.15" fill="#fff" stroke="#000" stroke-width="1.55"/>
<rect x="656.5" y="319.70000000000005" width="1.8" height="1.8" fill="none" stroke="#999" stroke-width="0.5"/>
<circle cx="665.5" cy="306" r="3.15" fill="#fff" stroke="#000" stroke-width="1.55"/>
<rect x="664.6" y="305.1" width="1.8" height="1.8" fill="none" stroke="#999" stroke-width="0.5"/>
<circle cx="665.5" cy="320.6" r="3.15" fill="#fff" stroke="#000" stroke-width="1.55"/>
<rect x="664.6" y="319.70000000000005" width="1.8" height="1.8" fill="none" stroke="#999" stroke-width="0.5"/>
<circle cx="678.0" cy="306" r="3.15" fill="#fff" stroke="#000" stroke-width="1.55"/>
<rect x="677.1" y="305.1" width="1.8" height="1.8" fill="none" stroke="#999" stroke-width="0.5"/>
<circle cx="678.0" cy="320.6" r="3.15" fill="#fff" stroke="#000" stroke-width="1.55"/>
<rect x="677.1" y="319.70000000000005" width="1.8" height="1.8" fill="none" stroke="#999" stroke-width="0.5"/>
<circle cx="686.3000000000001" cy="306" r="3.15" fill="#fff" stroke="#000" stroke-width="1.55"/>
<rect x="685.4000000000001" y="305.1" width="1.8" height="1.8" fill="none" stroke="#999" stroke-width="0.5"/>
<circle cx="686.3000000000001" cy="320.6" r="3.15" fill="#fff" stroke="#000" stroke-width="1.55"/>
<rect x="685.4000000000001" y="319.70000000000005" width="1.8" height="1.8" fill="none" stroke="#999" stroke-width="0.5"/>
<circle cx="694.4" cy="306" r="3.15" fill="#fff" stroke="#000" stroke-width="1.55"/>
<rect x="693.5" y="305.1" width="1.8" height="1.8" fill="none" stroke="#999" stroke-width="0.5"/>
<circle cx="694.4" cy="320.6" r="3.15" fill="#fff" stroke="#000" stroke-width="1.55"/>
<rect x="693.5" y="319.70000000000005" width="1.8" height="1.8" fill="none" stroke="#999" stroke-width="0.5"/>
<path d="M644.9,350 V336.5 Q644.9,334.3 647.1,334.3 H657.0 Q659.2,334.3 659.2,336.5 V350" fill="none" stroke="#222" stroke-width="0.9"/>
<path d="M646.3,350 V337.5 M657.8000000000001,350 V337.5" stroke="#888" stroke-width="0.6"/>
<path d="M665.9,350 V336.5 Q665.9,334.3 668.1,334.3 H675.1999999999999 Q677.4,334.3 677.4,336.5 V350" fill="none" stroke="#222" stroke-width="0.9"/>
<path d="M667.3,350 V337.5 M676.0,350 V337.5" stroke="#888" stroke-width="0.6"/>
<path d="M685.8000000000001,350 V336.5 Q685.8000000000001,334.3 688.0000000000001,334.3 H697.0 Q699.2,334.3 699.2,336.5 V350" fill="none" stroke="#222" stroke-width="0.9"/>
<path d="M687.2,350 V337.5 M697.8000000000001,350 V337.5" stroke="#888" stroke-width="0.6"/>
<path d="M647.6,350 V343 Q648.8000000000001,341.5 650.0,343 V350" fill="none" stroke="#222" stroke-width="0.8"/>
<path d="M670.4,350 V344 Q671.6,342.5 672.8000000000001,344 V350" fill="none" stroke="#222" stroke-width="0.8"/>
<path d="M690.6,350 V345 Q691.8000000000001,343.5 693.0,345 V350" fill="none" stroke="#222" stroke-width="0.8"/>
<path d="M669.9,336.6 H673.6 V340.5 H669.9 Z M671.0,336.6 V338.8 M672.5,336.6 V338.8" fill="none" stroke="#222" stroke-width="0.6"/>
<line x1="447.1" y1="281" x2="447.1" y2="374" stroke="#aaa" stroke-width="0.5"/>
<line x1="455.2" y1="281" x2="455.2" y2="352" stroke="#aaa" stroke-width="0.5"/>
<line x1="475.6" y1="296" x2="475.6" y2="364" stroke="#aaa" stroke-width="0.5"/>
<line x1="649.3" y1="296" x2="649.3" y2="366" stroke="#aaa" stroke-width="0.5"/>
<line x1="678.6" y1="281" x2="678.6" y2="376" stroke="#aaa" stroke-width="0.5"/>
<line x1="686.7" y1="281" x2="686.7" y2="352" stroke="#aaa" stroke-width="0.5"/>
<line x1="678.6" y1="350" x2="678.6" y2="376" stroke="#9a9a9a" stroke-width="0.6" />
<line x1="709.7" y1="326" x2="709.7" y2="395" stroke="#9a9a9a" stroke-width="0.6" />
<line x1="264.1" y1="328" x2="264.1" y2="395" stroke="#9a9a9a" stroke-width="0.6" />
<line x1="436" y1="306" x2="440" y2="306" stroke="#9a9a9a" stroke-width="0.6" />
<line x1="436" y1="320.6" x2="440" y2="320.6" stroke="#9a9a9a" stroke-width="0.6" />
<line x1="702" y1="305.9" x2="741" y2="305.9" stroke="#9a9a9a" stroke-width="0.6" />
<line x1="702" y1="320.9" x2="727" y2="320.9" stroke="#9a9a9a" stroke-width="0.6" />
<line x1="702" y1="350.8" x2="741" y2="350.8" stroke="#9a9a9a" stroke-width="0.6" />
<line x1="438.40000000000003" y1="283.4" x2="463.2" y2="283.4" stroke="#333" stroke-width="0.6" />
<path d="M447.10,283.40 L442.60,284.50 L442.60,282.30 Z" fill="#1a1a1a"/>
<path d="M455.20,283.40 L459.70,282.30 L459.70,284.50 Z" fill="#1a1a1a"/>
<text x="451.15" y="281.9" text-anchor="middle" style="font-size:8px;fill:#222" >9</text>
<line x1="669.8" y1="287.2" x2="694.5" y2="287.2" stroke="#333" stroke-width="0.6" />
<path d="M678.50,287.20 L674.00,288.30 L674.00,286.10 Z" fill="#1a1a1a"/>
<path d="M686.50,287.20 L691.00,286.10 L691.00,288.30 Z" fill="#1a1a1a"/>
<text x="682.5" y="285.7" text-anchor="middle" style="font-size:8px;fill:#222" >9</text>
<line x1="447.1" y1="360.3" x2="475.6" y2="360.3" stroke="#333" stroke-width="0.6" />
<path d="M447.10,360.30 L451.10,359.15 L451.10,361.45 Z" fill="#1a1a1a"/>
<path d="M475.60,360.30 L471.60,361.45 L471.60,359.15 Z" fill="#1a1a1a"/>
<text x="461.5" y="358.6" text-anchor="middle" style="font-size:8.5px;fill:#222" >32</text>
<line x1="649.3" y1="362" x2="678.6" y2="362" stroke="#333" stroke-width="0.6" />
<path d="M649.30,362.00 L653.30,360.85 L653.30,363.15 Z" fill="#1a1a1a"/>
<path d="M678.60,362.00 L674.60,363.15 L674.60,360.85 Z" fill="#1a1a1a"/>
<text x="664.3" y="360.4" text-anchor="middle" style="font-size:8.5px;fill:#222" >32</text>
<line x1="447.1" y1="371.5" x2="678.6" y2="371.5" stroke="#333" stroke-width="0.6" />
<path d="M447.10,371.50 L451.10,370.35 L451.10,372.65 Z" fill="#1a1a1a"/>
<path d="M678.60,371.50 L674.60,372.65 L674.60,370.35 Z" fill="#1a1a1a"/>
<text x="558.7" y="369.8" text-anchor="middle" style="font-size:8.5px;fill:#222" >B</text>
<line x1="678.6" y1="371.8" x2="709.7" y2="371.8" stroke="#333" stroke-width="0.6" />
<path d="M678.60,371.80 L682.60,370.65 L682.60,372.95 Z" fill="#1a1a1a"/>
<path d="M709.70,371.80 L705.70,372.95 L705.70,370.65 Z" fill="#1a1a1a"/>
<text x="694.3" y="369.9" text-anchor="middle" style="font-size:8.5px;fill:#222" >35</text>
<line x1="264.1" y1="388.6" x2="709.7" y2="388.6" stroke="#333" stroke-width="0.6" />
<path d="M264.10,388.60 L268.10,387.45 L268.10,389.75 Z" fill="#1a1a1a"/>
<path d="M709.70,388.60 L705.70,389.75 L705.70,387.45 Z" fill="#1a1a1a"/>
<text x="487.3" y="387.8" text-anchor="middle" style="font-size:8.5px;fill:#222" >A</text>
<line x1="724.1" y1="320.9" x2="724.1" y2="350.8" stroke="#333" stroke-width="0.6" />
<path d="M724.10,320.90 L725.25,324.90 L722.95,324.90 Z" fill="#1a1a1a"/>
<path d="M724.10,350.80 L722.95,346.80 L725.25,346.80 Z" fill="#1a1a1a"/>
<text x="723.2" y="334.3" text-anchor="middle" style="font-size:8.5px;fill:#222" transform="rotate(-90 723.2 334.3)" >33</text>
<line x1="738.7" y1="305.9" x2="738.7" y2="350.8" stroke="#333" stroke-width="0.6" />
<path d="M738.70,305.90 L739.85,309.90 L737.55,309.90 Z" fill="#1a1a1a"/>
<path d="M738.70,350.80 L737.55,346.80 L739.85,346.80 Z" fill="#1a1a1a"/>
<text x="737.8" y="327" text-anchor="middle" style="font-size:8.5px;fill:#222" transform="rotate(-90 737.8 327)" >49</text>
<g fill="none" stroke="#111">
<path d="M267.8,430 Q268,421.5 276,421.4 H697 Q708.8,421.5 709,431 V465" stroke-width="1.4"/>
<path d="M266.4,428.5 H709 M266.4,431.4 H709 M266.4,435.6 H709" stroke-width="0.9"/>
<path d="M281.4,453.4 H709" stroke-width="1"/>
<path d="M266.4,464.7 H709" stroke-width="1.2"/>
<path d="M264.3,420 V434.2" stroke-width="0.9"/>
<path d="M266.4,434.2 H281.4 V458.5 H266.4 Z" fill="#fff" stroke-width="0.9"/>
<path d="M266.4,434.2 V464.7" stroke-width="0.9"/>
<path d="M264.3,444.2 H266.4 V462 H264.3 Z" stroke-width="0.8"/>
</g>
<circle cx="273.5" cy="461.3" r="1.4" fill="#fff" stroke="#222" stroke-width="0.8"/>
<rect x="294.7" y="424.3" width="13.1" height="11" fill="#fff" stroke="#111" stroke-width="0.9"/>
<path d="M296.8,426 V432 M305.7,426 V432" stroke="#999" stroke-width="0.5"/>
<path d="M296.8,432.4 H297.9 Q301.25,425.6 304.59999999999997,432.4 H305.7" fill="none" stroke="#111" stroke-width="1.2"/>
<path d="M296.9,432.2 h1.6 M304.0,432.2 h1.6" stroke="#000" stroke-width="1.6"/>
<rect x="426.6" y="424.3" width="13.1" height="11" fill="#fff" stroke="#111" stroke-width="0.9"/>
<path d="M428.70000000000005,426 V432 M437.6,426 V432" stroke="#999" stroke-width="0.5"/>
<path d="M428.70000000000005,432.4 H429.8 Q433.15000000000003,425.6 436.5,432.4 H437.6" fill="none" stroke="#111" stroke-width="1.2"/>
<path d="M428.8,432.2 h1.6 M435.90000000000003,432.2 h1.6" stroke="#000" stroke-width="1.6"/>
<rect x="528.8" y="424.3" width="13.1" height="11" fill="#fff" stroke="#111" stroke-width="0.9"/>
<path d="M530.9,426 V432 M539.8,426 V432" stroke="#999" stroke-width="0.5"/>
<path d="M530.9,432.4 H532.0 Q535.3499999999999,425.6 538.6999999999999,432.4 H539.8" fill="none" stroke="#111" stroke-width="1.2"/>
<path d="M531.0,432.2 h1.6 M538.0999999999999,432.2 h1.6" stroke="#000" stroke-width="1.6"/>
<rect x="671.2" y="424.3" width="13.1" height="11" fill="#fff" stroke="#111" stroke-width="0.9"/>
<path d="M673.3000000000001,426 V432 M682.2,426 V432" stroke="#999" stroke-width="0.5"/>
<path d="M673.3000000000001,432.4 H674.4000000000001 Q677.75,425.6 681.1,432.4 H682.2" fill="none" stroke="#111" stroke-width="1.2"/>
<path d="M673.4000000000001,432.2 h1.6 M680.5,432.2 h1.6" stroke="#000" stroke-width="1.6"/>
<line x1="319.1" y1="417" x2="319.1" y2="441" stroke="#999" stroke-width="0.5"/>
<circle cx="319.1" cy="431.3" r="2.6" fill="#fff" stroke="#222" stroke-width="0.9"/>
<line x1="451.2" y1="417" x2="451.2" y2="441" stroke="#999" stroke-width="0.5"/>
<circle cx="451.2" cy="431.3" r="2.6" fill="#fff" stroke="#222" stroke-width="0.9"/>
<line x1="553.3" y1="417" x2="553.3" y2="441" stroke="#999" stroke-width="0.5"/>
<circle cx="553.3" cy="431.3" r="2.6" fill="#fff" stroke="#222" stroke-width="0.9"/>
<line x1="695" y1="417" x2="695" y2="441" stroke="#999" stroke-width="0.5"/>
<circle cx="695" cy="431.3" r="2.6" fill="#fff" stroke="#222" stroke-width="0.9"/>
<rect x="508.3" y="427.3" width="6.8" height="8.6" fill="#fff" stroke="#222" stroke-width="0.8"/>
<circle cx="635.5" cy="431.3" r="3.8" fill="#fff" stroke="#222" stroke-width="0.9"/>
<line x1="635.5" y1="405" x2="635.5" y2="427" stroke="#999" stroke-width="0.5"/>
<line x1="511.7" y1="404" x2="511.7" y2="427" stroke="#999" stroke-width="0.5"/>
<path d="M440.6,464.7 V473.7 H499.2 V464.7" fill="#fff" stroke="#222" stroke-width="0.9"/>
<path d="M442.7,471.5 Q443.5,466.6 449,466.6 Q454.5,466.6 455.3,471.5 Z" fill="#fff" stroke="#222" stroke-width="0.9"/>
<path d="M445,471.3 Q445.5,468.8 449,468.8 Q452.5,468.8 453,471.3 M445.5,470.2 H452.5" fill="none" stroke="#444" stroke-width="0.7"/>
<path d="M444,471.3 h2 M452,471.3 h2" stroke="#111" stroke-width="1.2"/>
<path d="M463.2,471.5 Q464.0,466.6 469.5,466.6 Q475.0,466.6 475.8,471.5 Z" fill="#fff" stroke="#222" stroke-width="0.9"/>
<path d="M465.5,471.3 Q466.0,468.8 469.5,468.8 Q473.0,468.8 473.5,471.3 M466.0,470.2 H473.0" fill="none" stroke="#444" stroke-width="0.7"/>
<path d="M464.5,471.3 h2 M472.5,471.3 h2" stroke="#111" stroke-width="1.2"/>
<path d="M483.7,471.5 Q484.5,466.6 490,466.6 Q495.5,466.6 496.3,471.5 Z" fill="#fff" stroke="#222" stroke-width="0.9"/>
<path d="M486,471.3 Q486.5,468.8 490,468.8 Q493.5,468.8 494,471.3 M486.5,470.2 H493.5" fill="none" stroke="#444" stroke-width="0.7"/>
<path d="M485,471.3 h2 M493,471.3 h2" stroke="#111" stroke-width="1.2"/>
<path d="M441.6,472.2 H498.2" stroke="#333" stroke-width="0.8"/>
<path d="M642.3,464.7 V473.7 H702.1 V464.7" fill="#fff" stroke="#222" stroke-width="0.9"/>
<path d="M645.1,471.5 Q645.9,466.6 651.4,466.6 Q656.9,466.6 657.6999999999999,471.5 Z" fill="#fff" stroke="#222" stroke-width="0.9"/>
<path d="M647.4,471.3 Q647.9,468.8 651.4,468.8 Q654.9,468.8 655.4,471.3 M647.9,470.2 H654.9" fill="none" stroke="#444" stroke-width="0.7"/>
<path d="M646.4,471.3 h2 M654.4,471.3 h2" stroke="#111" stroke-width="1.2"/>
<path d="M665.5,471.5 Q666.3,466.6 671.8,466.6 Q677.3,466.6 678.0999999999999,471.5 Z" fill="#fff" stroke="#222" stroke-width="0.9"/>
<path d="M667.8,471.3 Q668.3,468.8 671.8,468.8 Q675.3,468.8 675.8,471.3 M668.3,470.2 H675.3" fill="none" stroke="#444" stroke-width="0.7"/>
<path d="M666.8,471.3 h2 M674.8,471.3 h2" stroke="#111" stroke-width="1.2"/>
<path d="M685.5,471.5 Q686.3,466.6 691.8,466.6 Q697.3,466.6 698.0999999999999,471.5 Z" fill="#fff" stroke="#222" stroke-width="0.9"/>
<path d="M687.8,471.3 Q688.3,468.8 691.8,468.8 Q695.3,468.8 695.8,471.3 M688.3,470.2 H695.3" fill="none" stroke="#444" stroke-width="0.7"/>
<path d="M686.8,471.3 h2 M694.8,471.3 h2" stroke="#111" stroke-width="1.2"/>
<path d="M643.3,472.2 H701.1" stroke="#333" stroke-width="0.8"/>
<line x1="511.7" y1="406.3" x2="635.5" y2="406.3" stroke="#333" stroke-width="0.6" />
<path d="M511.70,406.30 L515.70,405.15 L515.70,407.45 Z" fill="#1a1a1a"/>
<path d="M635.50,406.30 L631.50,407.45 L631.50,405.15 Z" fill="#1a1a1a"/>
<text x="574.3" y="404.8" text-anchor="middle" style="font-size:8.8px;fill:#222" >138</text>
<text x="335.6" y="403.6" text-anchor="start" style="font-size:8.5px;fill:#222" >Ø6</text>
<path d="M335,401.4 H331 L321.6,425.3" fill="none" stroke="#444" stroke-width="0.55"/>
<path d="M321.30,426.30 L321.40,423.36 L323.10,423.97 Z" fill="#1a1a1a"/>
<text x="656.7" y="408.8" text-anchor="start" style="font-size:8.5px;fill:#222" >Ø9,2</text>
<path d="M656.5,405.9 H652.3 L640,426.8" fill="none" stroke="#444" stroke-width="0.55"/>
<path d="M639.60,427.50 L640.23,424.63 L641.79,425.53 Z" fill="#1a1a1a"/>
<line x1="508.5" y1="489.4" x2="633" y2="489.4" stroke="#333" stroke-width="0.6" />
<path d="M508.50,489.40 L512.50,488.25 L512.50,490.55 Z" fill="#1a1a1a"/>
<path d="M633.00,489.40 L629.00,490.55 L629.00,488.25 Z" fill="#1a1a1a"/>
<text x="572" y="487.6" text-anchor="middle" style="font-size:8.5px;fill:#222" >138</text>
<line x1="508.5" y1="487" x2="508.5" y2="503" stroke="#9a9a9a" stroke-width="0.6" />
<line x1="633" y1="487" x2="633" y2="503" stroke="#9a9a9a" stroke-width="0.6" />
<g stroke="#111" stroke-width="1.1" stroke-linejoin="round">
<path d="M498.6,522.5 H500.6 M516.7,520.3 H557.3 L566.3,508.3 L575.6,516.1 H624.7 M641.8,516.1 H668.8 V537.1 H498.6 V522.5" fill="#fff"/>
<path d="M516.7,520.3 H557.3 L566.3,508.3 L575.6,516.1 H624.7 V537 H516.7 Z" fill="#fff" stroke="none"/>
<path d="M641.8,516.1 H668.8 V537.1 H641.8 Z" fill="#fff" stroke="none"/>
<path d="M499.2,523 H516.7 V537 H499.2 Z" fill="#fff" stroke="none"/>
<path d="M516.7,520.3 H557.3 L566.3,508.3 L575.6,516.1 H624.7 M641.8,516.1 H668.8 V537.1 H498.6 V522.5 H500.6" fill="none"/>
<path d="M500.6,529.6 V511.3 L505.6,505.6 H512.2 L517.2,511.3 V529.6 Z" fill="#fff"/>
<rect x="505.50000000000006" y="508.2" width="6.8" height="6.8" rx="1.5" fill="#fff" stroke-width="0.8"/>
<circle cx="508.90000000000003" cy="511.6" r="2.1" fill="#fff" stroke-width="0.8"/>
<circle cx="508.90000000000003" cy="511.6" r="0.7" fill="#111" stroke="none"/>
<rect x="502.40000000000003" y="516.8" width="13.000000000000002" height="11.6" fill="#fff" stroke-width="1"/>
<path d="M508.90000000000003,516.8 V528.4 M502.40000000000003,522.4 H515.4000000000001" stroke-width="1.1"/>
<path d="M503.1,527.6 H514.7" stroke="#666" stroke-width="1.4"/>
<path d="M624.7,529.6 V511.3 L629.7,505.6 H636.8000000000001 L641.8000000000001,511.3 V529.6 Z" fill="#fff"/>
<rect x="629.85" y="508.2" width="6.8" height="6.8" rx="1.5" fill="#fff" stroke-width="0.8"/>
<circle cx="633.25" cy="511.6" r="2.1" fill="#fff" stroke-width="0.8"/>
<circle cx="633.25" cy="511.6" r="0.7" fill="#111" stroke="none"/>
<rect x="626.5" y="516.8" width="13.500000000000002" height="11.6" fill="#fff" stroke-width="1"/>
<path d="M633.25,516.8 V528.4 M626.5,522.4 H640.0000000000001" stroke-width="1.1"/>
<path d="M627.2,527.6 H639.3000000000001" stroke="#666" stroke-width="1.4"/>
<path d="M559.5,519.8 L564,513.5 L564,519.8 Z M566.3,510 V519.5 M566.8,513.5 H571 L573.5,516.5" fill="none" stroke-width="0.8"/>
<path d="M528.2,528.9 H547 L549,527.5 H564.5 L566.5,528.9 H593 A2.6,2.6 0 0 1 593,534.1 H530.8 A2.6,2.6 0 0 1 528.2,528.9 Z" fill="#fff" stroke-width="0.9"/>
<path d="M549,530.2 H565" stroke-width="0.6"/>
<ellipse cx="523.3" cy="525.6" rx="3.6" ry="2.2" fill="#fff" stroke-width="0.8"/><circle cx="523.3" cy="525.6" r="1" fill="#111" stroke="none"/>
<ellipse cx="653.7" cy="521.4" rx="3.7" ry="2.2" fill="#fff" stroke-width="0.8"/><circle cx="653.7" cy="521.4" r="1.1" fill="#111" stroke="none"/>
<rect x="618.5" y="537" width="2.9" height="16.6" rx="1.3" fill="#fff" stroke-width="0.8"/>
<path d="M612,537.5 L613,543.5 H617 L618,537.5 M623,537.5 L624,543.5 H628 L629,537.5" fill="#fff" stroke-width="0.8"/>
<circle cx="614.8" cy="540.2" r="1.3" fill="none" stroke-width="0.6"/><circle cx="625.8" cy="540.2" r="1.3" fill="none" stroke-width="0.6"/>
<path d="M644,538 Q649.4,542.5 655,538 M646.5,539.5 H652.5" fill="none" stroke-width="0.7"/>
<path d="M503,537.1 q3.5,-2.2 7,0 M523,537.1 q3,-2 6,0 M532,537.1 q3,-2 6,0 M560,537.1 q3,-2 6,0 M601,537.1 q3,-2 6,0 M664,537.1 q2.5,-2 4.8,0" fill="#111" stroke-width="0.8"/>
<path d="M590,516.1 q3,-1.8 6,0 M538,520.3 q3,-1.8 6,0" fill="#111" stroke-width="0.8"/>
</g>
<text x="649.8" y="534.3" text-anchor="start" style="font-size:6.2px;fill:#222" font-weight="bold">999</text>
<text x="101.8" y="445.5" text-anchor="start" style="font-size:8.9px;fill:#222" >NL</text>
<text x="129.1" y="445.5" text-anchor="start" style="font-size:8.9px;fill:#222" >A</text>
<text x="154" y="445.5" text-anchor="start" style="font-size:8.9px;fill:#222" >B</text>
<text x="101.8" y="455.2" text-anchor="start" style="font-size:8.9px;fill:#222" >300</text>
<text x="129.1" y="455.2" text-anchor="start" style="font-size:8.9px;fill:#222" >294</text>
<text x="154" y="455.2" text-anchor="start" style="font-size:8.9px;fill:#222" >224</text>
<text x="101.8" y="464.9" text-anchor="start" style="font-size:8.9px;fill:#222" >350</text>
<text x="129.1" y="464.9" text-anchor="start" style="font-size:8.9px;fill:#222" >344</text>
<text x="154" y="464.9" text-anchor="start" style="font-size:8.9px;fill:#222" >224</text>
<text x="101.8" y="474.6" text-anchor="start" style="font-size:8.9px;fill:#222" >400</text>
<text x="129.1" y="474.6" text-anchor="start" style="font-size:8.9px;fill:#222" >394</text>
<text x="154" y="474.6" text-anchor="start" style="font-size:8.9px;fill:#222" >224</text>
<text x="101.8" y="484.3" text-anchor="start" style="font-size:8.9px;fill:#222" >450</text>
<text x="129.1" y="484.3" text-anchor="start" style="font-size:8.9px;fill:#222" >444</text>
<text x="154" y="484.3" text-anchor="start" style="font-size:8.9px;fill:#222" >224</text>
<text x="101.8" y="494.0" text-anchor="start" style="font-size:8.9px;fill:#222" >500</text>
<text x="129.1" y="494.0" text-anchor="start" style="font-size:8.9px;fill:#222" >494</text>
<text x="154" y="494.0" text-anchor="start" style="font-size:8.9px;fill:#222" >256</text>
<text x="101.8" y="503.7" text-anchor="start" style="font-size:8.9px;fill:#222" >550</text>
<text x="129.1" y="503.7" text-anchor="start" style="font-size:8.9px;fill:#222" >544</text>
<text x="154" y="503.7" text-anchor="start" style="font-size:8.9px;fill:#222" >256</text>
</g>
</svg>
</body></html>
